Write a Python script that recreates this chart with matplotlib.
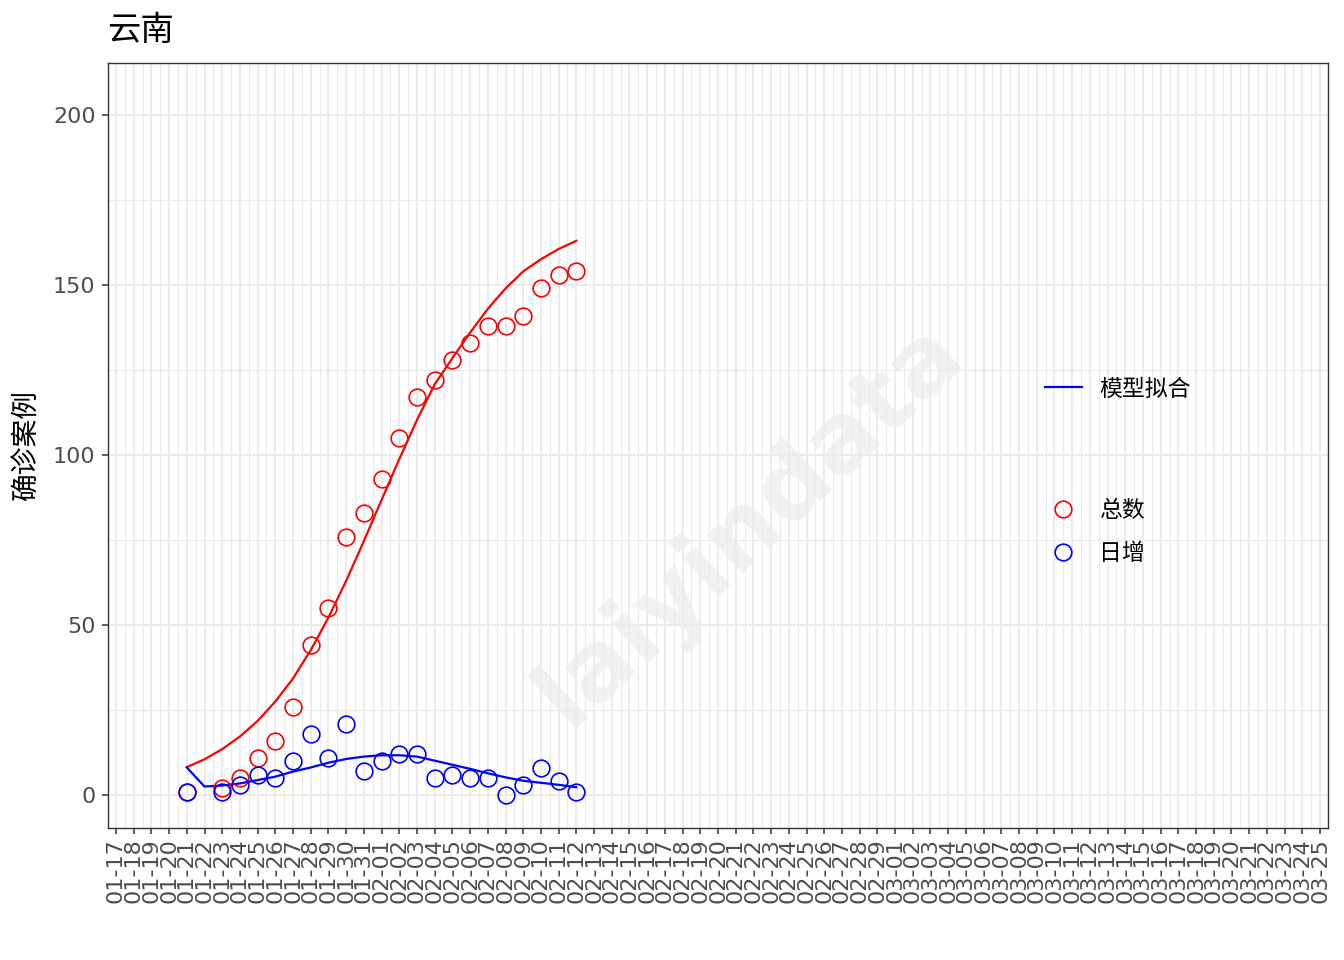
import numpy as np
import pandas as pd
import matplotlib
matplotlib.use("Agg")
import matplotlib.pyplot as plt
from matplotlib.lines import Line2D

plt.rcParams['font.family'] = ['DejaVu Sans', 'Noto Sans CJK SC']

# x axis: one tick per day
axis_days = pd.date_range("2020-01-17", "2020-03-25", freq="D")
tick_labels = axis_days.strftime("%m-%d").tolist()

# observed data
obs_dates = ["01-21", "01-23", "01-24", "01-25", "01-26", "01-27", "01-28",
             "01-29", "01-30", "01-31", "02-01", "02-02", "02-03", "02-04",
             "02-05", "02-06", "02-07", "02-08", "02-09", "02-10", "02-11",
             "02-12"]
total = [1, 2, 5, 11, 16, 26, 44, 55, 76, 83, 93, 105, 117, 122, 128, 133,
         138, 138, 141, 149, 153, 154]
daily = [1, 1, 3, 6, 5, 10, 18, 11, 21, 7, 10, 12, 12, 5, 6, 5, 5, 0, 3, 8,
         4, 1]

# model fit
fit_dates = ["01-21", "01-22", "01-23", "01-24", "01-25", "01-26", "01-27",
             "01-28", "01-29", "01-30", "01-31", "02-01", "02-02", "02-03",
             "02-04", "02-05", "02-06", "02-07", "02-08", "02-09", "02-10",
             "02-11", "02-12"]
fit_total = [8.2, 10.5, 13.5, 17.2, 21.8, 27.5, 34.3, 42.6, 52.2, 63.0, 74.7,
             86.8, 98.8, 110.3, 120.8, 128.5, 136.0, 143.0, 149.0, 154.0,
             157.6, 160.6, 163.0]
fit_daily = [8.1, 2.5, 2.8, 3.4, 4.4, 5.4, 6.9, 8.1, 9.5, 10.6, 11.3, 11.7,
             11.7, 11.3, 10.1, 8.9, 7.7, 6.4, 5.2, 4.2, 3.6, 3.0, 2.3]

pos = {lab: i for i, lab in enumerate(tick_labels)}
x_obs = [pos[d] for d in obs_dates]
x_fit = [pos[d] for d in fit_dates]

fig = plt.figure(figsize=(13.44, 9.6), dpi=100)
ax = fig.add_axes([108 / 1344, 1 - 828 / 960, 1220 / 1344, 765 / 960])
ax.set_axisbelow(True)

# watermark
ax.text(0.526, 0.398, "laiyindata", transform=ax.transAxes, rotation=43,
        rotation_mode='anchor', ha='center', va='center', fontsize=70,
        fontweight='bold', color='#F1F1F1', zorder=0.3)

ax.plot(x_fit, fit_total, color='red', lw=1.6, zorder=3)
ax.plot(x_fit, fit_daily, color='blue', lw=1.6, zorder=3)
ax.plot(x_obs, total, 'o', mfc='none', mec='red', ms=12, mew=1.2, zorder=4)
ax.plot(x_obs, daily, 'o', mfc='none', mec='blue', ms=12, mew=1.2, zorder=4)

ax.set_xlim(-0.45, 68.45)
ax.set_ylim(-9.7, 215.3)

ax.set_xticks(range(len(tick_labels)))
ax.set_xticklabels(tick_labels, rotation=90, fontsize=16, color='#4D4D4D')
ax.set_xticks(np.arange(0.5, len(tick_labels) - 1, 1.0), minor=True)
ax.set_yticks([0, 50, 100, 150, 200])
ax.set_yticks([25, 75, 125, 175], minor=True)
ax.tick_params(axis='y', labelsize=16, labelcolor='#4D4D4D', pad=5)
ax.tick_params(which='major', length=4, width=1.1, color='#333333')
ax.tick_params(which='minor', length=0)

ax.grid(which='major', color='#EBEBEB', lw=1.4)
ax.grid(which='minor', color='#EBEBEB', lw=0.8)
for sp in ax.spines.values():
    sp.set_color('#333333')
    sp.set_linewidth(1.0)

fig.text(107 / 1344, 1 - 30 / 960, "云南", fontsize=24, va='center', ha='left')
fig.text(27 / 1344, 1 - 445 / 960, "确诊案例", fontsize=20, rotation=90,
         va='center', ha='center')

# legends
h_line = [Line2D([0], [0], color='blue', lw=1.6)]
leg1 = fig.legend(h_line, ["模型拟合"], loc='center left',
                  bbox_to_anchor=(1045 / 1344, 1 - 389 / 960), frameon=False,
                  fontsize=16.5, handlelength=1.6, handletextpad=0.75,
                  borderpad=0, borderaxespad=0)
h_pts = [Line2D([0], [0], marker='o', ls='none', mfc='none', mec='red',
                ms=12, mew=1.2),
         Line2D([0], [0], marker='o', ls='none', mfc='none', mec='blue',
                ms=12, mew=1.2)]
leg2 = fig.legend(h_pts, ["总数", "日增"], loc='center left',
                  bbox_to_anchor=(1045 / 1344, 1 - 532 / 960), frameon=False,
                  fontsize=16.5, handlelength=1.6, handletextpad=0.75,
                  labelspacing=0.9, borderpad=0, borderaxespad=0)

fig.savefig("out.png", dpi=100)
